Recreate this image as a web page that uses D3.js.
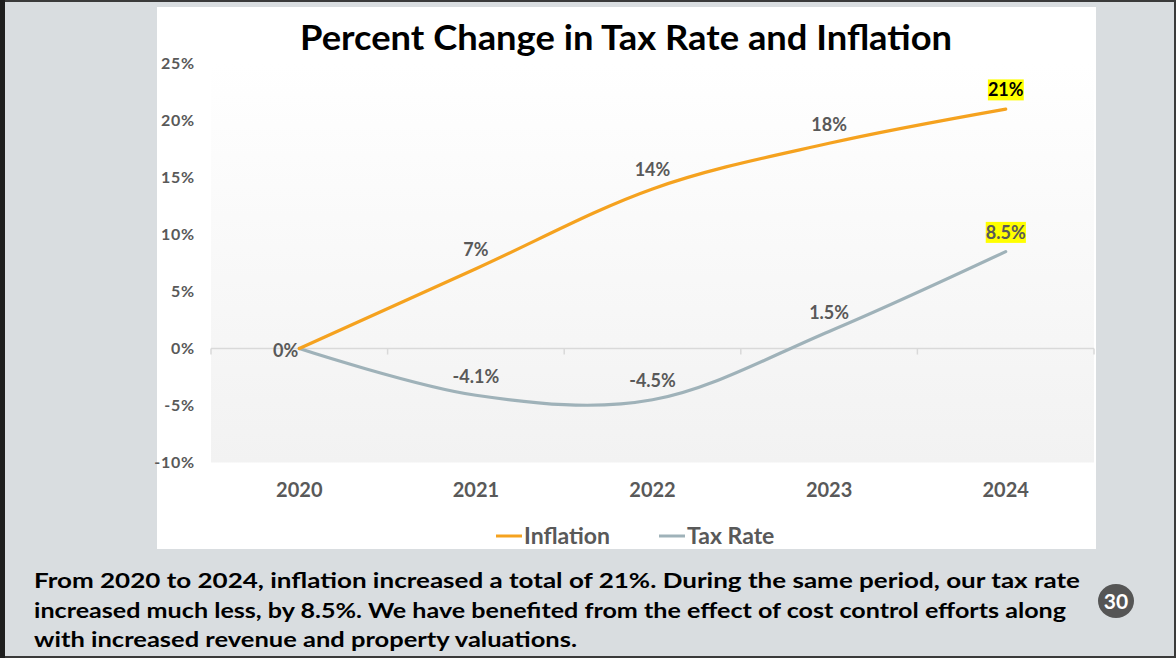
<!DOCTYPE html>
<html>
<head>
  <script src="https://cdnjs.cloudflare.com/ajax/libs/d3/7.8.5/d3.min.js"></script>
  <style>
    body { margin: 0; background: #d9dde0; }
    svg { display: block; font-family: Lato, "Open Sans", sans-serif; }
    .tick-label { font-size: 16px; font-weight: 700; fill: #595959; letter-spacing: 0.8px; }
    .year-label { font-size: 20px; font-weight: 700; fill: #595959; }
    .data-label { font-size: 18px; font-weight: 700; fill: #595959; }
    .legend text { font-size: 23px; font-weight: 700; fill: #595959; }
    .title { font-size: 34px; font-weight: 700; fill: #000; }
    .note { font-size: 21px; font-weight: 700; fill: #000; }
  </style>
</head>
<body>
<div id="chart"></div>
<script>
  // chart data
  const years = ["2020", "2021", "2022", "2023", "2024"];
  const inflation = [0, 7, 14, 18, 21];
  const taxRate = [0, -4.1, -4.5, 1.5, 8.5];
  const inflationLabels = ["0%", "7%", "14%", "18%", "21%"];
  const taxLabels = ["", "-4.1%", "-4.5%", "1.5%", "8.5%"];
  const yTicks = [-10, -5, 0, 5, 10, 15, 20, 25];
  const seriesNames = ["Inflation", "Tax Rate"];
  const noteLines = [
    "From 2020 to 2024, inflation increased a total of 21%. During the same period, our tax rate",
    "increased much less, by 8.5%. We have benefited from the effect of cost control efforts along",
    "with increased revenue and property valuations."
  ];

  const W = 1176, H = 658;
  const colors = { "Inflation": "#f5a21f", "Tax Rate": "#9fb2b9" };

  const svg = d3.select("#chart").append("svg")
    .attr("width", W).attr("height", H);

  // slide background + frame
  svg.append("rect").attr("width", W).attr("height", H).attr("fill", "#d9dde0");
  svg.append("rect").attr("x", 1).attr("y", 1).attr("width", W - 2).attr("height", H - 2)
    .attr("fill", "none").attr("stroke", "#3a3a3a").attr("stroke-width", 2);
  svg.append("rect").attr("x", 0).attr("y", 0).attr("width", 5).attr("height", H).attr("fill", "#1e1e1e");

  // white chart panel
  svg.append("rect").attr("x", 157).attr("y", 7).attr("width", 939).attr("height", 542).attr("fill", "#fff");

  const x = d3.scaleBand().domain(years).range([211, 1094]);
  const y = d3.scaleLinear().domain([-10, 25]).range([462.5, 63.5]);
  const cx = d => x(d) + x.bandwidth() / 2;

  // plot area gradient
  const grad = svg.append("defs").append("linearGradient")
    .attr("id", "plotbg").attr("x1", 0).attr("y1", 0).attr("x2", 0).attr("y2", 1);
  grad.append("stop").attr("offset", "0%").attr("stop-color", "#ffffff");
  grad.append("stop").attr("offset", "100%").attr("stop-color", "#f2f2f2");
  svg.append("rect")
    .attr("x", 211).attr("y", y(25)).attr("width", 1094 - 211).attr("height", y(-10) - y(25))
    .attr("fill", "url(#plotbg)");

  // zero line with category ticks
  svg.append("line").attr("x1", 211).attr("x2", 1094).attr("y1", y(0)).attr("y2", y(0))
    .attr("stroke", "#d9d9d9").attr("stroke-width", 1.5);
  svg.selectAll(".cat-tick").data(years.concat(["end"])).enter().append("line")
    .attr("x1", (d, i) => 211 + i * x.step()).attr("x2", (d, i) => 211 + i * x.step())
    .attr("y1", y(0)).attr("y2", y(0) + 6)
    .attr("stroke", "#d9d9d9").attr("stroke-width", 1.5);

  // y tick labels
  svg.selectAll(".tick-label").data(yTicks).enter().append("text")
    .attr("class", "tick-label")
    .attr("x", 195).attr("y", d => y(d)).attr("dy", "0.35em")
    .attr("text-anchor", "end")
    .text(d => d + "%");

  // x labels
  svg.selectAll(".year-label").data(years).enter().append("text")
    .attr("class", "year-label")
    .attr("x", d => cx(d)).attr("y", 490).attr("dy", "0.35em")
    .attr("text-anchor", "middle")
    .text(d => d);

  // title
  svg.append("text").attr("class", "title")
    .attr("x", 300).attr("y", 50)
    .attr("textLength", 652).attr("lengthAdjust", "spacingAndGlyphs")
    .text("Percent Change in Tax Rate and Inflation");

  // lines
  const line = d3.line()
    .x((d, i) => cx(years[i]))
    .y(d => y(d))
    .curve(d3.curveCardinal.tension(0));

  [["Tax Rate", taxRate], ["Inflation", inflation]].forEach(([name, vals]) => {
    svg.append("path").datum(vals)
      .attr("d", line)
      .attr("fill", "none")
      .attr("stroke", colors[name])
      .attr("stroke-width", 3.2)
      .attr("stroke-linecap", "round");
  });

  // data labels
  function addLabels(vals, labels) {
    vals.forEach((v, i) => {
      if (!labels[i]) return;
      const first = i === 0;
      const last = i === vals.length - 1;
      const g = svg.append("g");
      const t = g.append("text").attr("class", "data-label")
        .attr("x", first ? cx(years[i]) - 1 : cx(years[i]))
        .attr("y", first ? y(v) + 2 : y(v) - 19)
        .attr("dy", "0.35em")
        .attr("text-anchor", first ? "end" : "middle")
        .text(labels[i]);
      if (last) {
        const b = t.node().getBBox();
        g.insert("rect", "text")
          .attr("x", b.x).attr("y", b.y + 1)
          .attr("width", b.width).attr("height", b.height - 1)
          .attr("fill", "#ffff00");
        if (vals === inflation) t.style("fill", "#000");
      }
    });
  }
  addLabels(taxRate, taxLabels);
  addLabels(inflation, inflationLabels);

  // legend
  const legend = svg.append("g").attr("class", "legend");
  const legendX = [496, 659];
  seriesNames.forEach((name, i) => {
    legend.append("line")
      .attr("x1", legendX[i]).attr("x2", legendX[i] + 26)
      .attr("y1", 536).attr("y2", 536)
      .attr("stroke", colors[name]).attr("stroke-width", 3);
    legend.append("text")
      .attr("x", legendX[i] + 28).attr("y", 536).attr("dy", "0.35em")
      .text(name);
  });

  // footnote
  const noteWidths = [1046, 1032, 543];
  noteLines.forEach((s, i) => {
    svg.append("text").attr("class", "note")
      .attr("x", 34).attr("y", 588 + i * 29.5)
      .attr("textLength", noteWidths[i])
      .attr("lengthAdjust", "spacingAndGlyphs")
      .text(s);
  });

  // page badge
  svg.append("ellipse").attr("cx", 1116).attr("cy", 601).attr("rx", 18).attr("ry", 17).attr("fill", "#555");
  svg.append("text").attr("x", 1116).attr("y", 601).attr("dy", "0.36em")
    .attr("text-anchor", "middle")
    .style("font-size", "21px").style("font-weight", 700).style("fill", "#fff")
    .text("30");
</script>
</body>
</html>
